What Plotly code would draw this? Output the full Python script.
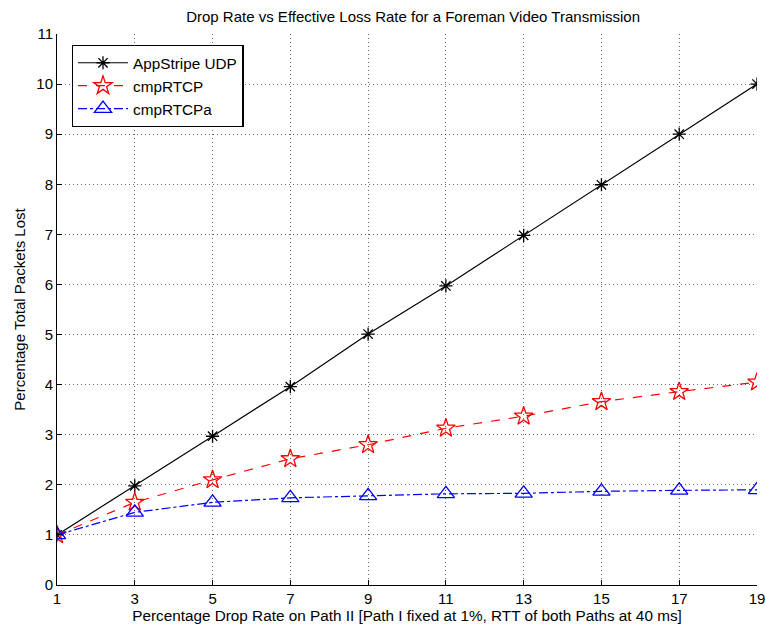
import plotly.graph_objects as go

drop_rate = [1, 3, 5, 7, 9, 11, 13, 15, 17, 19]
appstripe_udp = [1.0, 1.98, 2.97, 3.96, 5.01, 5.97, 6.98, 7.99, 9.0, 10.0]
cmp_rtcp = [1.0, 1.65, 2.1, 2.52, 2.8, 3.13, 3.37, 3.66, 3.86, 4.05]
cmp_rtcpa = [1.0, 1.45, 1.65, 1.74, 1.78, 1.82, 1.83, 1.87, 1.89, 1.9]
x_ticks = [1, 3, 5, 7, 9, 11, 13, 15, 17, 19]
y_ticks = list(range(0, 12))

fig = go.Figure()
fig.add_trace(go.Scatter(
    x=drop_rate, y=appstripe_udp, name="AppStripe UDP", mode="lines+markers",
    line=dict(color="black", width=1.2),
    marker=dict(symbol="asterisk-open", size=11, color="black", line=dict(width=1.3, color="black"))))
fig.add_trace(go.Scatter(
    x=drop_rate, y=cmp_rtcp, name="cmpRTCP", mode="lines+markers",
    line=dict(color="red", width=1.2, dash="dash"),
    marker=dict(symbol="star-open", size=14, color="red", line=dict(width=1.3, color="red"))))
fig.add_trace(go.Scatter(
    x=drop_rate, y=cmp_rtcpa, name="cmpRTCPa", mode="lines+markers",
    line=dict(color="blue", width=1.2, dash="dashdot"),
    marker=dict(symbol="triangle-up-open", size=15, color="blue", line=dict(width=1.3, color="blue"))))

axis_common = dict(
    showline=True, linecolor="black", linewidth=1, mirror=False,
    ticks="inside", ticklen=5, tickcolor="black",
    showgrid=True, gridcolor="rgba(0,0,0,0.6)", griddash="1px,3px", gridwidth=1,
    zeroline=False, tickfont=dict(size=15, color="black"),
    ticklabeloverflow="allow", automargin=False,
)

fig.update_layout(
    width=765, height=629,
    margin=dict(l=57, r=8, t=34, b=44),
    paper_bgcolor="white", plot_bgcolor="white",
    font=dict(family="Liberation Sans, Arial, sans-serif", color="black"),
    title=dict(text="Drop Rate vs Effective Loss Rate for a Foreman Video Transmission",
               x=0.54, xanchor="center", y=0.973, yanchor="middle",
               font=dict(size=15, color="black")),
    xaxis=dict(range=[1, 19], tickvals=x_ticks,
               title=dict(text="Percentage Drop Rate on Path II [Path I fixed at 1%, RTT of both Paths at 40 ms]",
                          font=dict(size=15.3), standoff=2),
               **axis_common),
    yaxis=dict(range=[0, 11], tickvals=y_ticks,
               title=dict(text="Percentage Total Packets Lost", font=dict(size=15), standoff=7),
               **axis_common),
    legend=dict(x=0.021, y=0.98, xanchor="left", yanchor="top",
                bgcolor="white", bordercolor="black", borderwidth=1.3,
                font=dict(size=15.3), tracegroupgap=0, itemwidth=50),
    showlegend=True,
)

fig.write_html("out.html", config={"displayModeBar": False},
               post_script="document.body.style.margin='0';document.body.style.overflow='hidden';")
